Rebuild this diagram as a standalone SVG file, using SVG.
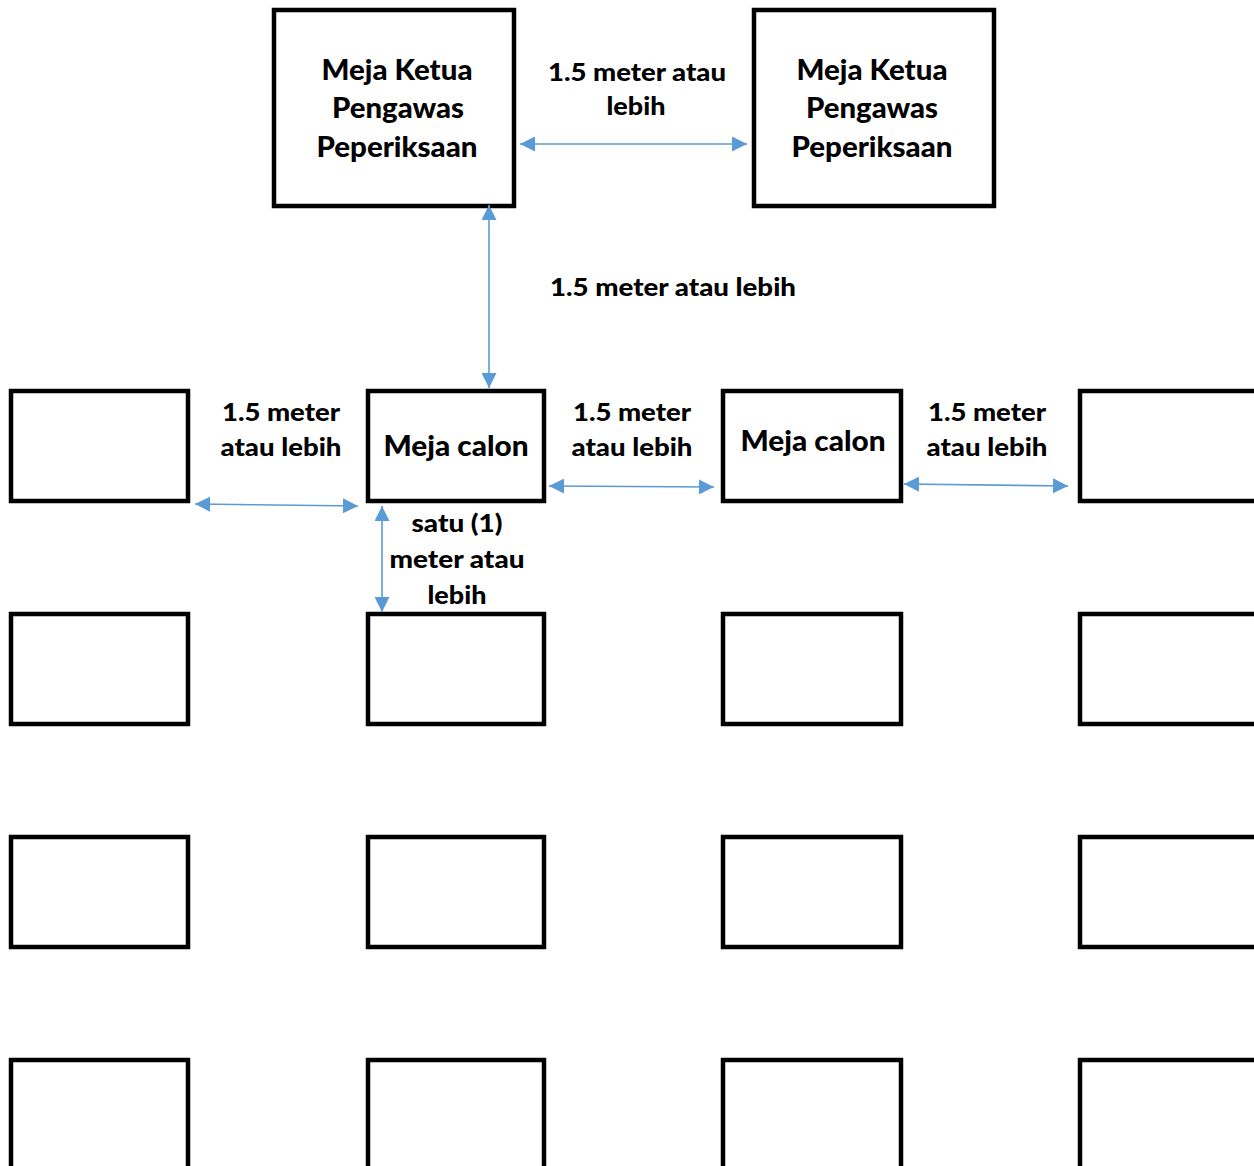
<svg xmlns="http://www.w3.org/2000/svg" width="1254" height="1166" viewBox="0 0 1254 1166">
<style>
.box{fill:#fff;stroke:#000;stroke-width:4.5}
.big{font-family:Lato,"Liberation Sans",sans-serif;font-weight:900;font-size:28px;fill:#000;text-anchor:middle}
.sm{font-family:Lato,"Liberation Sans",sans-serif;font-weight:900;font-size:25px;fill:#000;text-anchor:middle}
.arr{stroke:#5B9BD5;stroke-width:1.6;fill:none;marker-start:url(#ah);marker-end:url(#ah)}
</style>
<defs>
<marker id="ah" markerUnits="userSpaceOnUse" markerWidth="15" markerHeight="15" refX="14" refY="7" orient="auto-start-reverse" viewBox="0 0 14 14">
<path d="M0,0 L14,7 L0,14 z" fill="#5B9BD5"/>
</marker>
</defs>
<rect width="1254" height="1166" fill="#fff"/>
<g id="ketua1"><rect class="box" x="274" y="10" width="240" height="196"/>
<text class="big" x="397" y="80" textLength="151" lengthAdjust="spacingAndGlyphs">Meja Ketua</text><text class="big" x="398" y="118" textLength="132" lengthAdjust="spacingAndGlyphs">Pengawas</text><text class="big" x="397" y="157" textLength="161" lengthAdjust="spacingAndGlyphs">Peperiksaan</text></g>
<g id="ketua2"><rect class="box" x="754" y="10" width="240" height="196"/>
<text class="big" x="872" y="80" textLength="151" lengthAdjust="spacingAndGlyphs">Meja Ketua</text><text class="big" x="872" y="118" textLength="132" lengthAdjust="spacingAndGlyphs">Pengawas</text><text class="big" x="872" y="157" textLength="161" lengthAdjust="spacingAndGlyphs">Peperiksaan</text></g>

<g id="r1c1"><rect class="box" x="11" y="391" width="177" height="110"/></g>
<g id="r1c2"><rect class="box" x="368" y="391" width="176" height="110"/><text class="big" x="456" y="456" textLength="145" lengthAdjust="spacingAndGlyphs">Meja calon</text></g>
<g id="r1c3"><rect class="box" x="723" y="391" width="178" height="110"/><text class="big" x="813" y="451" textLength="145" lengthAdjust="spacingAndGlyphs">Meja calon</text></g>
<g id="r1c4"><rect class="box" x="1080" y="391" width="190" height="110"/></g>

<g id="r2c1"><rect class="box" x="11" y="614" width="177" height="110"/></g>
<g id="r2c2"><rect class="box" x="368" y="614" width="176" height="110"/></g>
<g id="r2c3"><rect class="box" x="723" y="614" width="178" height="110"/></g>
<g id="r2c4"><rect class="box" x="1080" y="614" width="190" height="110"/></g>

<g id="r3c1"><rect class="box" x="11" y="837" width="177" height="110"/></g>
<g id="r3c2"><rect class="box" x="368" y="837" width="176" height="110"/></g>
<g id="r3c3"><rect class="box" x="723" y="837" width="178" height="110"/></g>
<g id="r3c4"><rect class="box" x="1080" y="837" width="190" height="110"/></g>

<g id="r4c1"><rect class="box" x="11" y="1060" width="177" height="140"/></g>
<g id="r4c2"><rect class="box" x="368" y="1060" width="176" height="140"/></g>
<g id="r4c3"><rect class="box" x="723" y="1060" width="178" height="140"/></g>
<g id="r4c4"><rect class="box" x="1080" y="1060" width="190" height="140"/></g>

<g id="connectors">
<line class="arr" x1="520" y1="144" x2="747" y2="144"/>
<line class="arr" x1="489" y1="205" x2="489" y2="388"/>
<line class="arr" x1="195" y1="504" x2="358" y2="506"/>
<line class="arr" x1="549" y1="486" x2="714" y2="487"/>
<line class="arr" x1="904" y1="484" x2="1068" y2="486"/>
<line class="arr" x1="382" y1="506" x2="382" y2="612"/>
</g>
<g id="labels">
<text class="sm" x="637" y="81" textLength="178" lengthAdjust="spacingAndGlyphs">1.5 meter atau</text><text class="sm" x="636" y="115" textLength="59" lengthAdjust="spacingAndGlyphs">lebih</text>
<text class="sm" x="673" y="296" textLength="246" lengthAdjust="spacingAndGlyphs">1.5 meter atau lebih</text>
<text class="sm" x="281" y="421" textLength="118" lengthAdjust="spacingAndGlyphs">1.5 meter</text><text class="sm" x="281" y="456" textLength="121" lengthAdjust="spacingAndGlyphs">atau lebih</text>
<text class="sm" x="632" y="421" textLength="118" lengthAdjust="spacingAndGlyphs">1.5 meter</text><text class="sm" x="632" y="456" textLength="121" lengthAdjust="spacingAndGlyphs">atau lebih</text>
<text class="sm" x="987" y="421" textLength="118" lengthAdjust="spacingAndGlyphs">1.5 meter</text><text class="sm" x="987" y="456" textLength="121" lengthAdjust="spacingAndGlyphs">atau lebih</text>
<text class="sm" x="457" y="532" textLength="91" lengthAdjust="spacingAndGlyphs">satu (1)</text><text class="sm" x="457" y="568" textLength="135" lengthAdjust="spacingAndGlyphs">meter atau</text><text class="sm" x="457" y="604" textLength="59" lengthAdjust="spacingAndGlyphs">lebih</text>
</g>
</svg>
